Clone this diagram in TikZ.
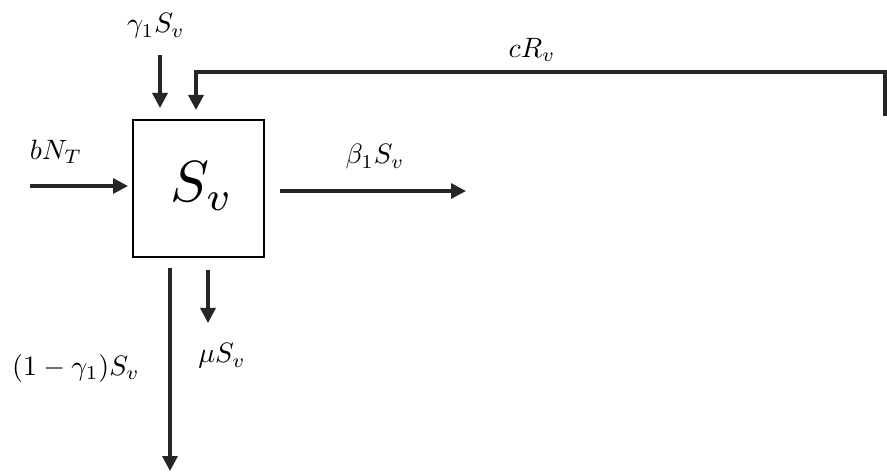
\documentclass[tikz,border=0pt]{standalone}
\usetikzlibrary{arrows.meta}
\begin{document}
\begin{tikzpicture}[x=1pt,y=-1pt,
  flow/.style={line width=3.3pt,draw=black!85,-{Triangle[length=15pt,width=15pt]}},
  lbl/.style={scale=2.8},
  box/.style={draw,line width=1.6pt,minimum width=131pt,minimum height=137pt,inner sep=0pt}]
\useasboundingbox (0,0) rectangle (887,473);
\node[box] (sv) at (198.5,188.5) {};
\node[scale=5.8] (svt) at (202,186) {$S_v$};
% top inflow
\coordinate (g0) at (160,55);
\coordinate (g1) at (160,108);
\draw[flow] (g0) -- (g1);
\node[lbl] (gl) at (156,26) {$\gamma_1 S_v$};
% feedback
\coordinate (r0) at (885,116);
\coordinate (r1) at (885,72);
\coordinate (r2) at (196,72);
\coordinate (r3) at (196,110);
\draw[flow] (r0) -- (r1) -- (r2) -- (r3);
\node[lbl] (rl) at (532,50) {$cR_v$};
% left inflow
\coordinate (b0) at (30,186);
\coordinate (b1) at (128,186);
\draw[flow] (b0) -- (b1);
\node[lbl] (bl) at (56,152) {$bN_T$};
% right outflow
\coordinate (o0) at (280,191);
\coordinate (o1) at (466,191);
\draw[flow] (o0) -- (o1);
\node[lbl] (ol) at (375,157) {$\beta_1 S_v$};
% bottom outflows
\coordinate (d0) at (170,268);
\coordinate (d1) at (170,471);
\draw[flow] (d0) -- (d1);
\node[lbl] (dl) at (76,368) {$(1-\gamma_1)S_v$};
\coordinate (m0) at (208,270);
\coordinate (m1) at (208,323);
\draw[flow] (m0) -- (m1);
\node[lbl] (ml) at (222,356) {$\mu S_v$};
\end{tikzpicture}
\end{document}
